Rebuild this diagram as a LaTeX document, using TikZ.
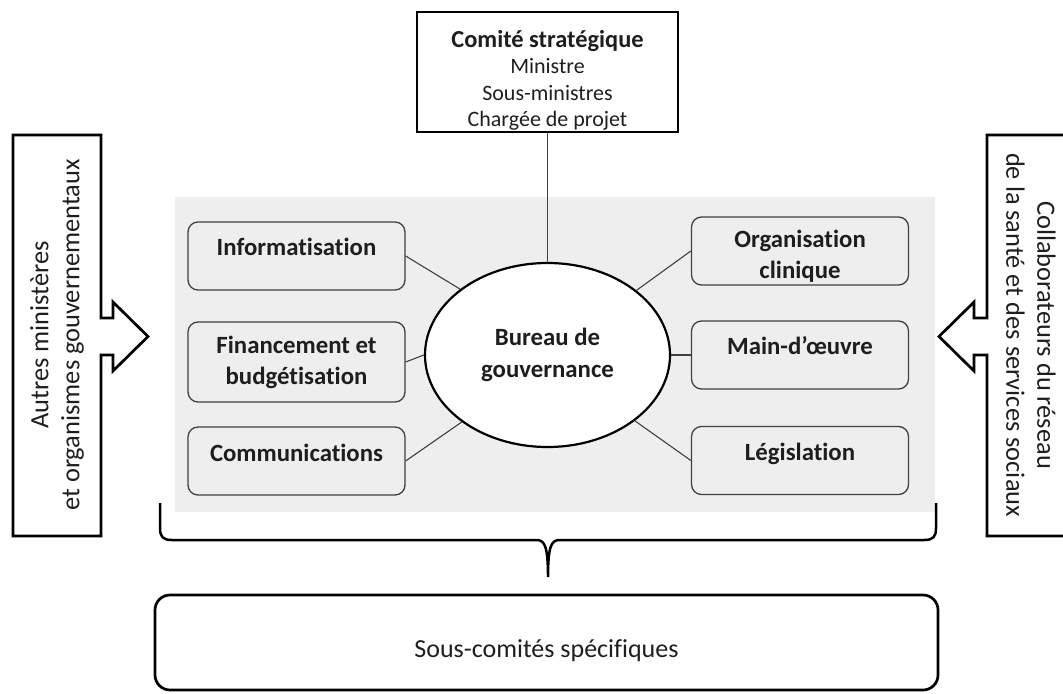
\documentclass[tikz,border=0pt]{standalone}
\usepackage{fontspec}
\setmainfont{Carlito}[Ligatures={NoCommon,NoContextual}]
\usetikzlibrary{shapes}
\definecolor{panelgray}{HTML}{EEEEEE}
\definecolor{framegray}{HTML}{404040}
\definecolor{inkblack}{HTML}{1E1E1E}
\tikzset{
unit/.style={draw=framegray, line width=0.65pt, rounded corners=5pt, minimum width=108.5pt, inner sep=0pt, align=center, text=inkblack, font=\fontsize{12.4}{15.5}\selectfont\bfseries},
oneline/.style={text height=17pt, text depth=17pt},
link/.style={draw=framegray, line width=0.55pt},
heavy/.style={draw=black, line width=1.35pt},
side/.style={align=center, text=inkblack, font=\fontsize{13.2}{15.5}\selectfont}
}

\begin{document}
\begin{tikzpicture}[x=0.5pt,y=-0.5pt]
\useasboundingbox (0,0) rectangle (1063,694);
\fill[panelgray] (175,197) rectangle (935,512);

\node[heavy, minimum width=130.5pt, inner sep=0pt, text height=57.5pt, text depth=2.5pt, align=center, text=inkblack, font=\fontsize{11}{13.3}\selectfont] (comite) at (547.5,72) {{\fontsize{12.2}{13.3}\selectfont\bfseries Comité stratégique}\\Ministre\\Sous-ministres\\Chargée de projet};

\node[heavy, ellipse, fill=white, line width=1.1pt, minimum width=122.5pt, minimum height=92pt, inner sep=0pt, align=center, text=inkblack, font=\fontsize{12.4}{16}\selectfont\bfseries] (bureau) at (547.5,355) {Bureau de\\gouvernance};

\node[unit, oneline] (info) at (296.5,256) {Informatisation};
\node[unit, minimum height=40pt] (fin) at (296.5,362) {Financement et\\budgétisation};
\node[unit, oneline] (comm) at (296.5,461) {Communications};
\node[unit, text height=31pt, text depth=3pt] (orga) at (800,251) {Organisation\\clinique};
\node[unit, oneline] (main) at (800,355) {Main-d’œuvre};
\node[unit, oneline] (legis) at (800,460.5) {Législation};

\draw[link] (comite) -- (bureau);
\draw[link] (info.east) -- (bureau.143);
\draw[link] (fin.east) -- (bureau.180);
\draw[link] (comm.east) -- (bureau.218);
\draw[link] (orga.west) -- (bureau.36.5);
\draw[link] (main.west) -- (bureau.0);
\draw[link] (legis.west) -- (bureau.323);

\draw[heavy] (13,135) -- (101,135) -- (101,318) -- (113,318) -- (113,302) -- (148,336.5) -- (113,371) -- (113,355) -- (101,355) -- (101,536) -- (13,536) -- cycle;
\node[side, rotate=90] (autres) at (57,335) {Autres ministères\\et organismes gouvernementaux};

\draw[heavy] (1075,135) -- (987,135) -- (987,318) -- (974,318) -- (974,302) -- (939,336.5) -- (974,371) -- (974,355) -- (987,355) -- (987,536) -- (1075,536) -- cycle;
\node[side, rotate=-90] (collab) at (1031,335) {Collaborateurs du réseau\\de la santé et des services sociaux};

\draw[heavy, line width=1.25pt] (160,503) -- (160,528) .. controls (160,537) and (163,540) .. (172,540) -- (536,540) .. controls (544,540) and (548,544) .. (548,577) .. controls (548,544) and (552,540) .. (560,540) -- (924,540) .. controls (933,540) and (936,537) .. (936,528) -- (936,503);

\node[heavy, rounded corners=7.5pt, minimum width=391.5pt, minimum height=47.5pt, inner sep=0pt, text height=31pt, text depth=16.5pt, text=inkblack, font=\fontsize{13}{15}\selectfont] (sous) at (546.5,642.5) {Sous-comités spécifiques};
\end{tikzpicture}
\end{document}
